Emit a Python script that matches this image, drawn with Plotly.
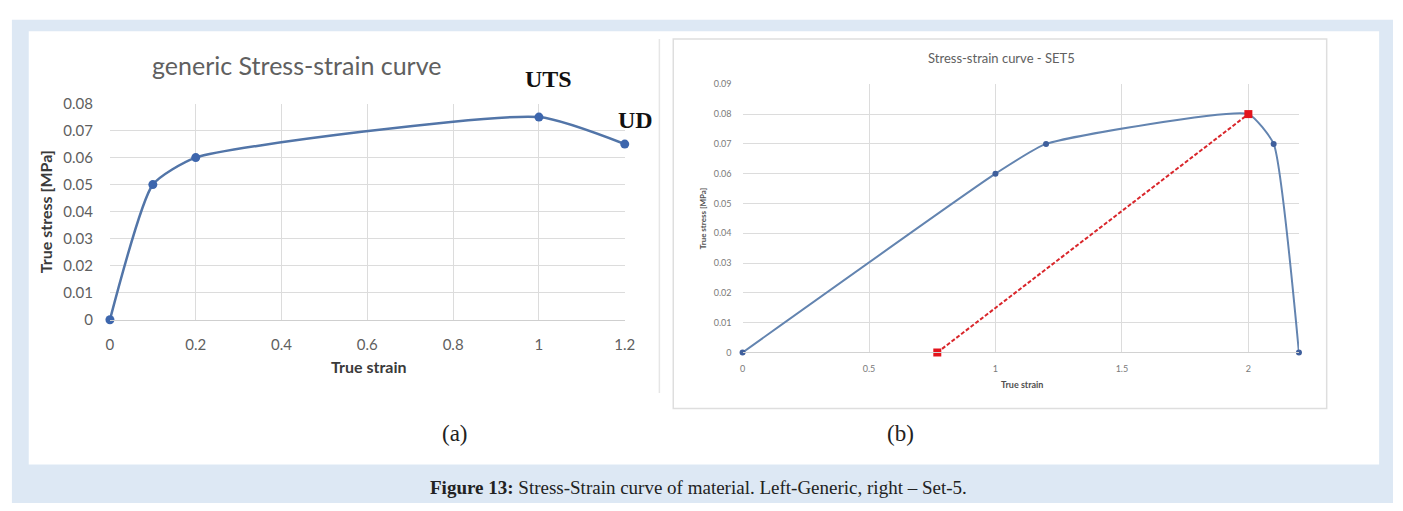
import plotly.graph_objects as go

# Generic curve (panel a)
generic_strain = [0.0, 0.1, 0.2, 1.0, 1.2]
generic_stress = [0.0, 0.05, 0.06, 0.075, 0.065]

# Set-5 curve (panel b)
set5_strain = [0.0, 1.0, 1.2, 2.0, 2.1, 2.2]
set5_stress = [0.0, 0.06, 0.07, 0.08, 0.07, 0.0]

# Offset line from residual strain to the peak (panel b)
offset_strain = [0.77, 2.0]
offset_stress = [0.0, 0.08]

generic_xticks = [0, 0.2, 0.4, 0.6, 0.8, 1, 1.2]
generic_yticks = [0, 0.01, 0.02, 0.03, 0.04, 0.05, 0.06, 0.07, 0.08]
set5_xticks = [0, 0.5, 1, 1.5, 2]
set5_yticks = [0, 0.01, 0.02, 0.03, 0.04, 0.05, 0.06, 0.07, 0.08, 0.09]

W, H = 1403, 511


def px(x):
    return x / W


def py(y):
    return 1 - y / H


fig = go.Figure()

fig.add_trace(go.Scatter(
    x=generic_strain, y=generic_stress, mode="lines+markers",
    line=dict(color="#5275a8", width=2.5, shape="spline", smoothing=0.55),
    marker=dict(color="#3d66ad", size=9),
    xaxis="x", yaxis="y", showlegend=False, cliponaxis=False,
))

fig.add_trace(go.Scatter(
    x=set5_strain, y=set5_stress, mode="lines+markers",
    line=dict(color="#6384b0", width=2, shape="spline", smoothing=0.45),
    marker=dict(color="#3f5f9c", size=6),
    xaxis="x2", yaxis="y2", showlegend=False, cliponaxis=False,
))

fig.add_trace(go.Scatter(
    x=offset_strain, y=offset_stress, mode="lines+markers",
    line=dict(color="#d9262b", width=2, dash="4px,2px"),
    marker=dict(color="#e3141c", size=8, symbol="square"),
    xaxis="x2", yaxis="y2", showlegend=False, cliponaxis=False,
))

grid = "#dcdcdc"
tick_font_a = dict(family="Lato", size=15, color="#5f5f5f")
tick_font_b = dict(family="Lato", size=9, color="#7a7a7a")

fig.update_layout(
    width=W, height=H,
    margin=dict(l=0, r=0, t=0, b=0),
    paper_bgcolor="white",
    plot_bgcolor="rgba(0,0,0,0)",
    xaxis=dict(
        domain=[px(107), px(627)], range=[0, 1.2], tickvals=generic_xticks,
        ticktext=["0", "0.2", "0.4", "0.6", "0.8", "1", "1.2"],
        showgrid=True, gridcolor=grid, zeroline=False,
        showline=True, linecolor="#cfcfcf", ticks="",
        tickfont=tick_font_a, ticklabelstandoff=11, anchor="y",
    ),
    yaxis=dict(
        domain=[py(321), py(97)], range=[0, 0.08], tickvals=generic_yticks,
        ticktext=["0", "0.01", "0.02", "0.03", "0.04", "0.05", "0.06", "0.07", "0.08"],
        showgrid=True, gridcolor=grid, zeroline=False, ticks="",
        tickfont=tick_font_a, ticklabelstandoff=16, anchor="x",
    ),
    xaxis2=dict(
        domain=[px(746), px(1308)], range=[0, 2.2], tickvals=set5_xticks,
        ticktext=["0", "0.5", "1", "1.5", "2"],
        showgrid=True, gridcolor=grid, zeroline=False,
        showline=True, linecolor="#d2d2d2", ticks="",
        tickfont=tick_font_b, ticklabelstandoff=8, anchor="y2",
    ),
    yaxis2=dict(
        domain=[py(355), py(77)], range=[0, 0.09], tickvals=set5_yticks,
        ticktext=["0", "0.01", "0.02", "0.03", "0.04", "0.05", "0.06", "0.07", "0.08", "0.09"],
        showgrid=True, gridcolor=grid, zeroline=False, ticks="",
        tickfont=tick_font_b, ticklabelstandoff=10, anchor="x2",
    ),
)

# Page background, white panel and chart frames
fig.add_shape(type="rect", xref="paper", yref="paper", layer="below",
              x0=px(8), x1=px(W), y0=py(H), y1=py(10),
              fillcolor="#dde8f4", line=dict(width=0))
fig.add_shape(type="rect", xref="paper", yref="paper", layer="below",
              x0=px(25), x1=px(1389), y0=py(471), y1=py(22),
              fillcolor="white", line=dict(width=0))
fig.add_shape(type="rect", xref="paper", yref="paper", layer="below",
              x0=px(676), x1=px(1336), y0=py(413), y1=py(30),
              fillcolor="rgba(0,0,0,0)", line=dict(color="#dedede", width=1.5))
fig.add_shape(type="line", xref="paper", yref="paper", layer="below",
              x0=px(662), x1=px(662), y0=py(397), y1=py(30),
              line=dict(color="#e6e6e6", width=1.5))


def label(x, y, text, size, family="Lato", color="#404040", angle=0):
    fig.add_annotation(xref="paper", yref="paper", x=px(x), y=py(y),
                       text=text, showarrow=False, textangle=angle,
                       xanchor="center", yanchor="middle",
                       font=dict(family=family, size=size, color=color))


# Panel (a) texts
label(295, 57, "generic Stress-strain curve", 25, color="#606060")
label(368, 369, "<b>True strain</b>", 16, color="#3a3a3a")
label(42, 209, "<b>True stress [MPa]</b>", 16, color="#3a3a3a", angle=-90)
label(550, 72, "<b>UTS</b>", 24, family="Liberation Serif", color="#111111")
label(638, 114, "<b>UD</b>", 24, family="Liberation Serif", color="#111111")
label(456, 439, "(a)", 23, family="Liberation Serif", color="#222222")

# Panel (b) texts
label(1008, 50, "Stress-strain curve - SET5", 13, color="#606060")
label(1028, 388, "<b>True strain</b>", 9, color="#505050")
label(706, 216, "<b>True stress [MPa]</b>", 8, color="#505050", angle=-90)
label(906, 439, "(b)", 23, family="Liberation Serif", color="#222222")

# Caption
label(702, 495, "<b>Figure 13:</b> Stress-Strain curve of material. Left-Generic, right \u2013 Set-5.",
      19, family="Liberation Serif", color="#222222")

fig.write_html("out.html")
